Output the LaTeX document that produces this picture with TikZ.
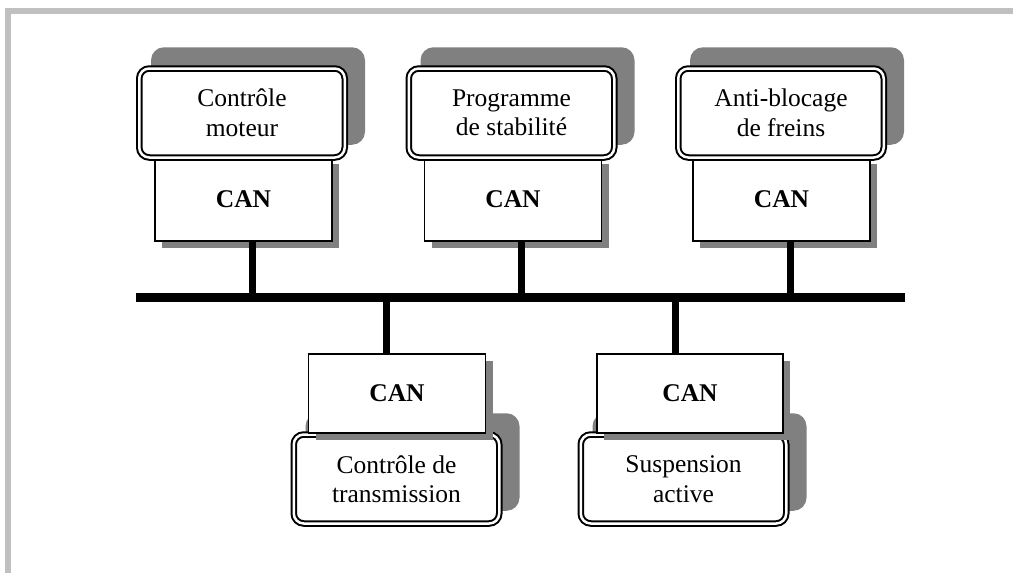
\documentclass[tikz,border=0pt]{standalone}
\usepackage{fontspec}
\setmainfont{Liberation Serif}
\usetikzlibrary{calc,shadows}
\definecolor{shadowgray}{HTML}{808080}
\definecolor{framegray}{HTML}{C0C0C0}
\pgfdeclarelayer{bg}
\pgfdeclarelayer{shadow}
\pgfsetlayers{bg,shadow,main}
\begin{document}
\begin{tikzpicture}[x=1pt,y=-1pt,
  txt/.style={font=\fontsize{25.5}{29.5}\selectfont},
  ecu/.style={txt, draw, line width=2pt, double=white, double distance=2.5pt,
    rounded corners=10pt, fill=white, minimum width=205.5pt, minimum height=89pt,
    inner sep=0pt, align=center},
  canbox/.style={txt, draw, line width=1.5pt, fill=white, minimum width=177pt,
    inner sep=0pt, font=\fontsize{25.5}{29.5}\selectfont\bfseries,
    drop shadow={shadow xshift=7pt, shadow yshift=-7pt, fill=shadowgray, opacity=1}},
  bus/.style={line width=9pt},
  tap/.style={line width=7pt},
  framing/.style={framegray, line width=6pt}]

% page and frame
\begin{pgfonlayer}{bg}
  \fill[white] (0,0) rectangle (1013,573);
\end{pgfonlayer}
\useasboundingbox (0,0) rectangle (1013,573);
\draw[framing] (5,11) -- (1013,11);
\draw[framing] (8,8) -- (8,573);

% upper controllers: interface below, unit above
\node[canbox, minimum height=84pt] (can1) at (243.5,199) {CAN};
\node[ecu] (ecu1) at (242,113) {Contrôle\\moteur};
\node[canbox, minimum height=84pt] (can2) at (513,199) {CAN};
\node[ecu] (ecu2) at (511.5,113) {Programme\\de stabilité};
\node[canbox, minimum height=84pt] (can3) at (781.5,199) {CAN};
\node[ecu] (ecu3) at (781,113) {Anti-blocage\\de freins};

% lower controllers: unit below, interface above
\node[ecu] (ecu4) at (396.5,479) {Contrôle de\\transmission};
\node[canbox, minimum height=79pt] (can4) at (397,393.5) {CAN};
\node[ecu] (ecu5) at (683.5,479) {Suspension\\active};
\node[canbox, minimum height=79pt, minimum width=186pt] (can5) at (690,393.5) {CAN};

% shadows of the rounded units, offset up and to the right
\begin{pgfonlayer}{shadow}
  \foreach \n in {ecu1,ecu2,ecu3,ecu4,ecu5}
    \fill[shadowgray, rounded corners=13pt]
      ($(\n.north west)+(12.75,-20.25)$) rectangle ($(\n.south east)+(19.25,-13.75)$);
\end{pgfonlayer}

% bus and taps
\coordinate (busL) at (136,297);
\coordinate (busR) at (905,297);
\draw[bus] (busL) -- (busR);
\coordinate (tap1) at (252.5,297);
\coordinate (tap2) at (521.5,297);
\coordinate (tap3) at (790,297);
\coordinate (tap4) at (386.7,297);
\coordinate (tap5) at (675,297);
\draw[tap] (tap1) -- (tap1 |- can1.south);
\draw[tap] (tap2) -- (tap2 |- can2.south);
\draw[tap] (tap3) -- (tap3 |- can3.south);
\draw[tap] (tap4) -- (tap4 |- can4.north);
\draw[tap] (tap5) -- (tap5 |- can5.north);
\end{tikzpicture}
\end{document}
